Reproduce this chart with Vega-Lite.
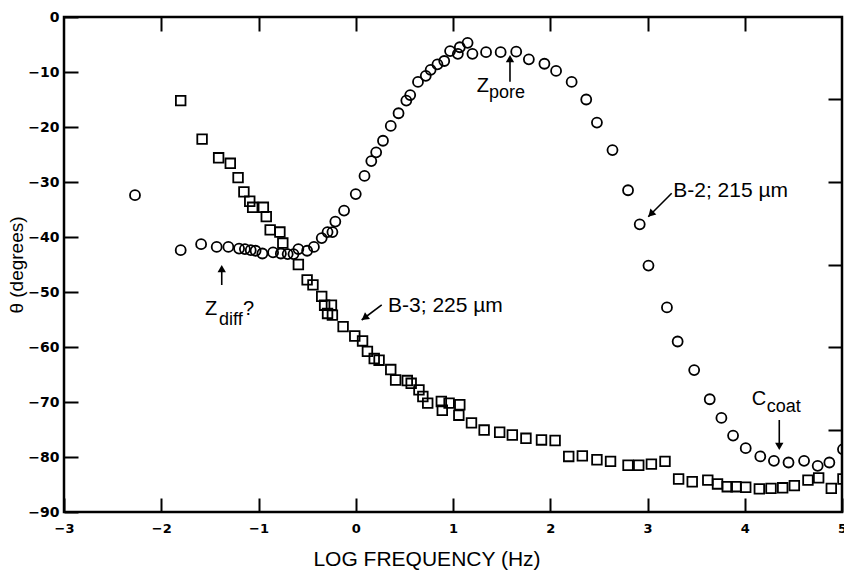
{
  "$schema": "https://vega.github.io/schema/vega-lite/v6.json",
  "width": 778,
  "height": 495,
  "autosize": {"type": "none"},
  "padding": {"left": 64, "top": 17, "right": 2, "bottom": 59},
  "background": "white",
  "config": {
    "view": {"stroke": "black", "strokeWidth": 2.5},
    "axis": {"grid": false, "domain": false, "ticks": true, "tickColor": "black", "tickWidth": 2, "tickSize": 14, "offset": -14, "labelColor": "black", "titleColor": "black"}
  },
  "datasets": {
    "b2": [
      {"logf": -2.27, "theta": -32.4}, {"logf": -1.80, "theta": -42.4}, {"logf": -1.59, "theta": -41.3},
      {"logf": -1.43, "theta": -41.8}, {"logf": -1.31, "theta": -41.8}, {"logf": -1.20, "theta": -42.1},
      {"logf": -1.14, "theta": -42.2}, {"logf": -1.08, "theta": -42.4}, {"logf": -1.03, "theta": -42.5},
      {"logf": -0.96, "theta": -43.0}, {"logf": -0.85, "theta": -42.8}, {"logf": -0.77, "theta": -43.0},
      {"logf": -0.70, "theta": -43.1}, {"logf": -0.64, "theta": -43.1}, {"logf": -0.59, "theta": -42.2},
      {"logf": -0.50, "theta": -42.5}, {"logf": -0.43, "theta": -41.8}, {"logf": -0.35, "theta": -40.2},
      {"logf": -0.29, "theta": -39.1}, {"logf": -0.24, "theta": -39.1}, {"logf": -0.21, "theta": -37.2},
      {"logf": -0.12, "theta": -35.2}, {"logf": 0.00, "theta": -32.2}, {"logf": 0.09, "theta": -28.9},
      {"logf": 0.16, "theta": -26.2}, {"logf": 0.21, "theta": -24.6}, {"logf": 0.28, "theta": -22.5},
      {"logf": 0.36, "theta": -19.8}, {"logf": 0.44, "theta": -17.5}, {"logf": 0.52, "theta": -15.2},
      {"logf": 0.56, "theta": -14.2}, {"logf": 0.64, "theta": -11.8}, {"logf": 0.72, "theta": -10.7},
      {"logf": 0.77, "theta": -9.6}, {"logf": 0.84, "theta": -8.6}, {"logf": 0.91, "theta": -8.0},
      {"logf": 0.97, "theta": -6.2}, {"logf": 1.05, "theta": -6.7}, {"logf": 1.07, "theta": -5.5},
      {"logf": 1.15, "theta": -4.7}, {"logf": 1.20, "theta": -6.7}, {"logf": 1.34, "theta": -6.4},
      {"logf": 1.49, "theta": -6.4}, {"logf": 1.65, "theta": -6.3}, {"logf": 1.78, "theta": -7.7},
      {"logf": 1.94, "theta": -8.5}, {"logf": 2.06, "theta": -9.8}, {"logf": 2.22, "theta": -11.8},
      {"logf": 2.37, "theta": -15.0}, {"logf": 2.48, "theta": -19.2}, {"logf": 2.64, "theta": -24.2},
      {"logf": 2.80, "theta": -31.5}, {"logf": 2.92, "theta": -37.7}, {"logf": 3.01, "theta": -45.2},
      {"logf": 3.20, "theta": -52.8}, {"logf": 3.31, "theta": -59.0}, {"logf": 3.48, "theta": -64.2},
      {"logf": 3.64, "theta": -69.5}, {"logf": 3.76, "theta": -72.9}, {"logf": 3.88, "theta": -76.1},
      {"logf": 4.01, "theta": -78.4}, {"logf": 4.16, "theta": -79.9}, {"logf": 4.30, "theta": -80.7},
      {"logf": 4.45, "theta": -81.0}, {"logf": 4.61, "theta": -80.7}, {"logf": 4.75, "theta": -81.6},
      {"logf": 4.87, "theta": -81.0}, {"logf": 5.01, "theta": -78.6}
    ],
    "b3": [
      {"logf": -1.80, "theta": -15.2}, {"logf": -1.58, "theta": -22.2}, {"logf": -1.41, "theta": -25.6},
      {"logf": -1.29, "theta": -26.6}, {"logf": -1.21, "theta": -29.2}, {"logf": -1.15, "theta": -31.8},
      {"logf": -1.09, "theta": -33.5}, {"logf": -1.06, "theta": -34.6}, {"logf": -0.95, "theta": -34.6},
      {"logf": -0.92, "theta": -36.3}, {"logf": -0.88, "theta": -38.7}, {"logf": -0.78, "theta": -39.1},
      {"logf": -0.75, "theta": -41.1}, {"logf": -0.59, "theta": -45.0}, {"logf": -0.50, "theta": -47.8},
      {"logf": -0.44, "theta": -48.7}, {"logf": -0.35, "theta": -50.8}, {"logf": -0.32, "theta": -52.4},
      {"logf": -0.25, "theta": -52.4}, {"logf": -0.29, "theta": -53.9}, {"logf": -0.24, "theta": -54.2},
      {"logf": -0.13, "theta": -56.3}, {"logf": -0.01, "theta": -58.0}, {"logf": 0.07, "theta": -58.9},
      {"logf": 0.12, "theta": -60.8}, {"logf": 0.19, "theta": -62.1}, {"logf": 0.24, "theta": -62.4},
      {"logf": 0.36, "theta": -64.1}, {"logf": 0.41, "theta": -66.0}, {"logf": 0.53, "theta": -66.1},
      {"logf": 0.57, "theta": -66.6}, {"logf": 0.65, "theta": -67.8}, {"logf": 0.69, "theta": -69.0},
      {"logf": 0.74, "theta": -70.2}, {"logf": 0.88, "theta": -69.9}, {"logf": 0.89, "theta": -71.5},
      {"logf": 0.96, "theta": -70.2}, {"logf": 1.07, "theta": -70.5}, {"logf": 1.06, "theta": -72.4},
      {"logf": 1.19, "theta": -73.8}, {"logf": 1.32, "theta": -75.1}, {"logf": 1.48, "theta": -75.5},
      {"logf": 1.61, "theta": -76.0}, {"logf": 1.75, "theta": -76.6}, {"logf": 1.91, "theta": -76.9},
      {"logf": 2.05, "theta": -77.0}, {"logf": 2.19, "theta": -79.9}, {"logf": 2.33, "theta": -79.8},
      {"logf": 2.48, "theta": -80.5}, {"logf": 2.62, "theta": -80.8}, {"logf": 2.80, "theta": -81.5},
      {"logf": 2.91, "theta": -81.5}, {"logf": 3.04, "theta": -81.3}, {"logf": 3.18, "theta": -80.8},
      {"logf": 3.32, "theta": -84.0}, {"logf": 3.46, "theta": -84.5}, {"logf": 3.62, "theta": -84.2},
      {"logf": 3.72, "theta": -84.9}, {"logf": 3.82, "theta": -85.4}, {"logf": 3.91, "theta": -85.4},
      {"logf": 4.01, "theta": -85.5}, {"logf": 4.15, "theta": -85.8}, {"logf": 4.27, "theta": -85.7},
      {"logf": 4.39, "theta": -85.6}, {"logf": 4.51, "theta": -85.2}, {"logf": 4.65, "theta": -84.2},
      {"logf": 4.76, "theta": -83.8}, {"logf": 4.89, "theta": -85.7}, {"logf": 5.01, "theta": -84.0}
    ],
    "serieslabels": [
      {"x": 3.265, "y": -32.78, "label": "B-2; 215 µm"},
      {"x": 0.332, "y": -53.7, "label": "B-3; 225 µm"}
    ],
    "mainsym": [
      {"x": 1.244, "y": -13.58, "label": "Z"},
      {"x": -1.55, "y": -54.18, "label": "Z"},
      {"x": -1.159, "y": -54.18, "label": "?"},
      {"x": 4.071, "y": -70.55, "label": "C"}
    ],
    "subs": [
      {"x": 1.37, "y": -14.64, "label": "pore"},
      {"x": -1.406, "y": -56.0, "label": "diff"},
      {"x": 4.226, "y": -71.76, "label": "coat"}
    ],
    "shafts": [
      {"x": 1.586, "y": -11.76, "x2": 1.586, "y2": -7.56},
      {"x": -1.378, "y": -48.73, "x2": -1.378, "y2": -45.75},
      {"x": 4.355, "y": -73.27, "x2": 4.355, "y2": -78.07},
      {"x": 3.249, "y": -32.05, "x2": 3.008, "y2": -36.31},
      {"x": 0.267, "y": -52.36, "x2": 0.061, "y2": -55.09}
    ],
    "headsup": [{"x": 1.586, "y": -7.56}, {"x": -1.378, "y": -45.75}],
    "headsdown": [{"x": 4.355, "y": -78.07}],
    "headb2": [{"x": 3.034, "y": -35.84}],
    "headb3": [{"x": 0.091, "y": -54.69}]
  },
  "layer": [
    {
      "data": {"name": "b2"},
      "mark": {"type": "point", "shape": "circle", "size": 100, "filled": false, "color": "black", "strokeWidth": 1.8, "opacity": 1, "clip": true},
      "encoding": {
        "x": {"field": "logf", "type": "quantitative", "scale": {"domain": [-3, 5], "nice": false, "zero": false},
          "axis": {"orient": "bottom", "values": [-3, -2, -1, 0, 1, 2, 3, 4, 5], "format": "d", "offset": -14, "tickSize": 14, "labelPadding": 10,
            "labelFont": "DejaVu Sans", "labelFontWeight": "bold", "labelFontSize": 13, "labelFlush": false,
            "title": "LOG FREQUENCY (Hz)", "titleFont": "Liberation Sans", "titleFontSize": 21, "titleFontWeight": "normal",
            "titleX": 362.5, "titleY": 67, "titleAlign": "center", "titleBaseline": "alphabetic"}},
        "y": {"field": "theta", "type": "quantitative", "scale": {"domain": [-90, 0], "nice": false, "zero": false},
          "axis": {"orient": "left", "values": [0, -10, -20, -30, -40, -50, -60, -70, -80, -90], "format": "d", "offset": -14, "tickSize": 14, "labelPadding": 5,
            "labelFont": "DejaVu Sans", "labelFontWeight": "bold", "labelFontSize": 14, "labelFlush": false,
            "title": "θ (degrees)", "titleFont": "Liberation Sans", "titleFontSize": 19, "titleFontWeight": "normal",
            "titleX": -62, "titleY": 247.5, "titleAngle": -90, "titleAlign": "center", "titleBaseline": "middle"}}
      }
    },
    {
      "data": {"name": "b3"},
      "mark": {"type": "point", "shape": "square", "size": 92, "filled": false, "color": "black", "strokeWidth": 1.8, "opacity": 1, "clip": true},
      "encoding": {
        "x": {"field": "logf", "type": "quantitative", "scale": {"domain": [-3, 5], "nice": false, "zero": false},
          "axis": {"orient": "top", "values": [-2, -1, 0, 1, 2, 3, 4], "offset": -14, "tickSize": 14, "labels": false, "title": null}},
        "y": {"field": "theta", "type": "quantitative", "scale": {"domain": [-90, 0], "nice": false, "zero": false},
          "axis": {"orient": "right", "values": [-15, -30, -45, -60, -75], "offset": -14, "tickSize": 14, "labels": false, "title": null}}
      }
    },
    {
      "data": {"name": "shafts"},
      "mark": {"type": "rule", "color": "black", "strokeWidth": 1.6},
      "encoding": {
        "x": {"field": "x", "type": "quantitative", "axis": null},
        "y": {"field": "y", "type": "quantitative", "axis": null},
        "x2": {"field": "x2"},
        "y2": {"field": "y2"}
      }
    },
    {
      "data": {"name": "headsup"},
      "mark": {"type": "point", "shape": "triangle-up", "size": 70, "filled": true, "color": "black", "opacity": 1},
      "encoding": {
        "x": {"field": "x", "type": "quantitative", "axis": null},
        "y": {"field": "y", "type": "quantitative", "axis": null}
      }
    },
    {
      "data": {"name": "headsdown"},
      "mark": {"type": "point", "shape": "triangle-down", "size": 70, "filled": true, "color": "black", "opacity": 1},
      "encoding": {
        "x": {"field": "x", "type": "quantitative", "axis": null},
        "y": {"field": "y", "type": "quantitative", "axis": null}
      }
    },
    {
      "data": {"name": "headb2"},
      "mark": {"type": "point", "shape": "triangle-up", "angle": 225, "size": 70, "filled": true, "color": "black", "opacity": 1},
      "encoding": {
        "x": {"field": "x", "type": "quantitative", "axis": null},
        "y": {"field": "y", "type": "quantitative", "axis": null}
      }
    },
    {
      "data": {"name": "headb3"},
      "mark": {"type": "point", "shape": "triangle-up", "angle": 233, "size": 70, "filled": true, "color": "black", "opacity": 1},
      "encoding": {
        "x": {"field": "x", "type": "quantitative", "axis": null},
        "y": {"field": "y", "type": "quantitative", "axis": null}
      }
    },
    {
      "data": {"name": "serieslabels"},
      "mark": {"type": "text", "align": "left", "baseline": "alphabetic", "font": "Liberation Sans", "fontSize": 21, "color": "black"},
      "encoding": {
        "x": {"field": "x", "type": "quantitative", "axis": null},
        "y": {"field": "y", "type": "quantitative", "axis": null},
        "text": {"field": "label"}
      }
    },
    {
      "data": {"name": "mainsym"},
      "mark": {"type": "text", "align": "left", "baseline": "alphabetic", "font": "Liberation Sans", "fontSize": 20, "color": "black"},
      "encoding": {
        "x": {"field": "x", "type": "quantitative", "axis": null},
        "y": {"field": "y", "type": "quantitative", "axis": null},
        "text": {"field": "label"}
      }
    },
    {
      "data": {"name": "subs"},
      "mark": {"type": "text", "align": "left", "baseline": "alphabetic", "font": "Liberation Sans", "fontSize": 18, "color": "black"},
      "encoding": {
        "x": {"field": "x", "type": "quantitative", "axis": null},
        "y": {"field": "y", "type": "quantitative", "axis": null},
        "text": {"field": "label"}
      }
    }
  ],
  "resolve": {"axis": {"x": "independent", "y": "independent"}}
}
